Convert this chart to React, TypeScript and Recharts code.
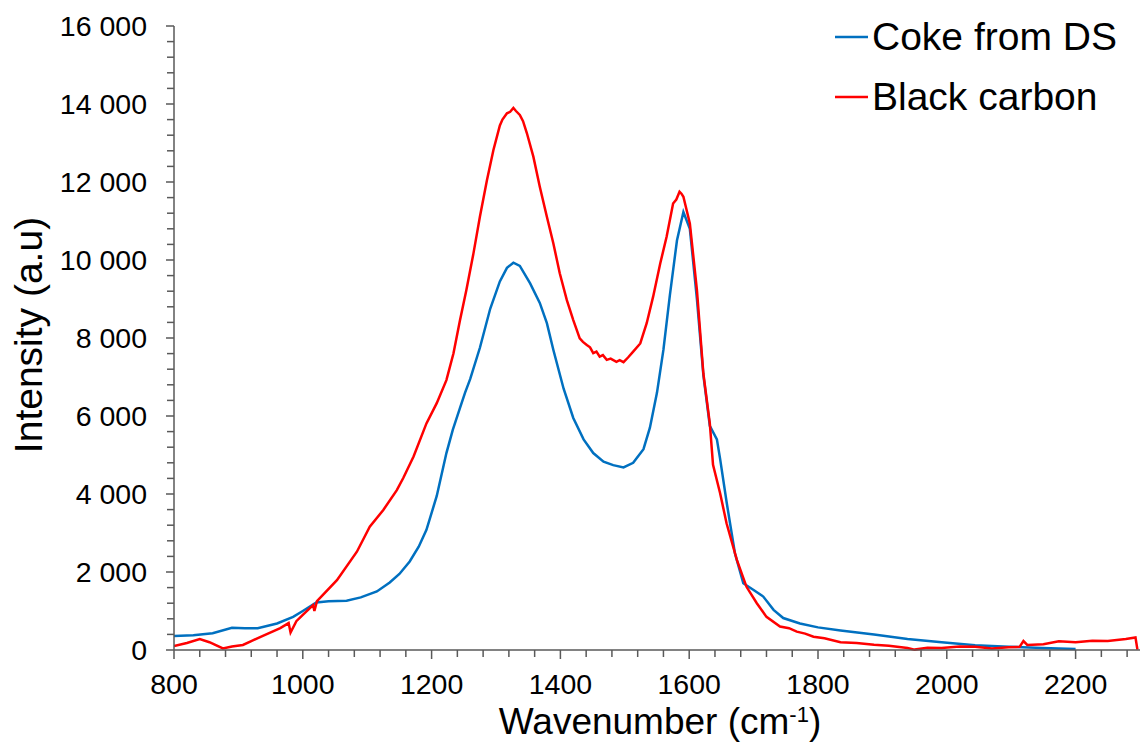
import { LineChart, Line, XAxis, YAxis, Legend } from "recharts";

const FONT = "'Liberation Sans', Arial, sans-serif";
const BLUE = "#0070C0";
const RED = "#FF0000";
const AXIS = "#595959";

// Coke from DS
const cokeWavenumber = [
  800, 830, 860, 890, 910, 930, 960, 985, 1000, 1021, 1040, 1068, 1090, 1115, 1135, 1150, 1166, 1180,
  1192, 1208, 1223, 1233, 1244, 1252, 1260, 1275, 1291, 1306, 1317, 1327, 1337, 1353, 1368, 1379, 1389,
  1405, 1420, 1436, 1451, 1467, 1482, 1498, 1513, 1529, 1539, 1550, 1560, 1570, 1581, 1591, 1601, 1612,
  1622, 1632, 1643, 1648, 1658, 1671, 1684, 1700, 1715, 1731, 1746, 1772, 1800, 1835, 1887, 1939, 1992,
  2044, 2096, 2148, 2200,
];
const cokeIntensity = [
  360, 380, 430, 570, 560, 560, 680, 850, 1000, 1220, 1250, 1265, 1350, 1500, 1730, 1950, 2270, 2650,
  3080, 3950, 5050, 5650, 6200, 6600, 6950, 7750, 8750, 9450, 9800, 9930, 9850, 9400, 8900, 8380, 7700,
  6700, 5950, 5400, 5050, 4830, 4740, 4680, 4800, 5150, 5700, 6600, 7700, 9100, 10500, 11230, 10800, 9000,
  7050, 5750, 5400, 4900, 3800, 2480, 1710, 1540, 1370, 1030, 820, 680, 580, 500, 395, 280, 200,
  120, 85, 50, 25,
];

// Black carbon
const carbonWavenumber = [
  800, 820, 840, 855, 876, 890, 907, 920, 938, 965, 978, 981, 990, 1000, 1016, 1018, 1022, 1053, 1084,
  1104, 1125, 1146, 1156, 1172, 1192, 1208, 1223, 1234, 1244, 1254, 1265, 1275, 1286, 1296, 1306, 1310,
  1317, 1322, 1327, 1331, 1337, 1342, 1348, 1358, 1368, 1379, 1389, 1399, 1410, 1420, 1430, 1435, 1441,
  1446, 1451, 1456, 1461, 1466, 1472, 1478, 1487, 1492, 1498, 1505, 1513, 1524, 1534, 1544, 1555, 1565,
  1575, 1580, 1585, 1588, 1591, 1601, 1612, 1622, 1632, 1637, 1648, 1658, 1674, 1689, 1705, 1720, 1741,
  1755, 1767, 1780, 1793, 1810, 1835, 1860, 1887, 1910, 1939, 1950, 1970, 1992, 2020, 2044, 2070, 2096,
  2113, 2119, 2125, 2150, 2174, 2200, 2226, 2250, 2278, 2293, 2296,
];
const carbonIntensity = [
  100, 180, 280, 200, 40, 90, 130, 230, 360, 560, 690, 450, 740, 900, 1150, 1000, 1250, 1790, 2520,
  3160, 3590, 4100, 4410, 4960, 5810, 6330, 6920, 7610, 8450, 9230, 10170, 11110, 12050, 12820, 13450, 13600,
  13760, 13800, 13900, 13820, 13720, 13560, 13250, 12650, 11880, 11110, 10430, 9660, 8970, 8460, 7990, 7900, 7820,
  7760, 7610, 7650, 7520, 7560, 7440, 7470, 7390, 7430, 7380, 7500, 7650, 7860, 8380, 9060, 9910, 10600,
  11450, 11550, 11750, 11700, 11620, 10940, 9230, 7090, 5810, 4750, 4020, 3250, 2310, 1620, 1200, 850, 600,
  560, 470, 420, 340, 300, 200, 180, 135, 110, 50, 10, 60, 50, 90, 85, 40, 70,
  80, 230, 130, 150, 225, 200, 240, 230, 280, 320, 10,
];

const xTicks = [
  800, 840, 880, 920, 960, 1000, 1040, 1080, 1120, 1160, 1200, 1240, 1280, 1320, 1360, 1400, 1440, 1480,
  1520, 1560, 1600, 1640, 1680, 1720, 1760, 1800, 1840, 1880, 1920, 1960, 2000, 2040, 2080, 2120, 2160,
  2200, 2240, 2280,
];
const xLabels = [800, 1000, 1200, 1400, 1600, 1800, 2000, 2200];
const yTicks = [
  0, 400, 800, 1200, 1600, 2000, 2400, 2800, 3200, 3600, 4000, 4400, 4800, 5200, 5600, 6000, 6400, 6800,
  7200, 7600, 8000, 8400, 8800, 9200, 9600, 10000, 10400, 10800, 11200, 11600, 12000, 12400, 12800, 13200,
  13600, 14000, 14400, 14800, 15200, 15600, 16000,
];
const yLabels = [0, 2000, 4000, 6000, 8000, 10000, 12000, 14000, 16000];

const series = [
  { name: "Coke from DS", color: BLUE, data: cokeWavenumber.map((x, i) => ({ x, y: cokeIntensity[i] })) },
  { name: "Black carbon", color: RED, data: carbonWavenumber.map((x, i) => ({ x, y: carbonIntensity[i] })) },
];

const fmt = (v: number) => (v === 0 ? "0" : `${v / 1000} 000`);

function XTick({ x, y, payload }: any) {
  const major = xLabels.includes(payload.value);
  return (
    <g>
      <line x1={x} x2={x} y1={y} y2={y + (major ? 9 : 7)} stroke={AXIS} strokeWidth={1.5} />
      {major && (
        <text x={x} y={y + 44} textAnchor="middle" fontSize={28.5} fontFamily={FONT} fill="#000">
          {payload.value}
        </text>
      )}
    </g>
  );
}

function YTick({ x, y, payload }: any) {
  const major = yLabels.includes(payload.value);
  return (
    <g>
      <line x1={x - (major ? 8 : 7)} x2={x} y1={y} y2={y} stroke={AXIS} strokeWidth={1.5} />
      {major && (
        <text x={x - 27} y={y} dy="0.36em" textAnchor="end" fontSize={28.5} fontFamily={FONT} fill="#000">
          {fmt(payload.value)}
        </text>
      )}
    </g>
  );
}

function LegendBox() {
  return (
    <div style={{ fontFamily: FONT, fontSize: 39, color: "#000" }}>
      {series.map((s) => (
        <div key={s.name} style={{ display: "flex", alignItems: "center", height: 60, whiteSpace: "nowrap" }}>
          <svg width={37} height={4} style={{ display: "block" }}>
            <line x1={0} x2={33} y1={2} y2={2} stroke={s.color} strokeWidth={2.5} />
          </svg>
          <span>{s.name}</span>
        </div>
      ))}
    </div>
  );
}

export default function App() {
  return (
    <div style={{ position: "absolute", left: 0, top: 0, background: "#fff" }}>
      <LineChart width={1141} height={753} margin={{ top: 26, right: 1, left: 74, bottom: 43 }}>
        <XAxis
          type="number"
          dataKey="x"
          domain={[800, 2300]}
          ticks={xTicks}
          interval={0}
          allowDataOverflow
          height={60}
          tickSize={0}
          tickMargin={0}
          tickLine={false}
          axisLine={{ stroke: AXIS, strokeWidth: 1.5 }}
          tick={<XTick />}
          label={{
            content: () => (
              <text x={660} y={734} textAnchor="middle" fontSize={37} fontFamily={FONT} fill="#000">
                Wavenumber (cm
                <tspan dy={-12} fontSize={22}>-1</tspan>
                <tspan dy={12}>)</tspan>
              </text>
            ),
          }}
        />
        <YAxis
          type="number"
          dataKey="y"
          domain={[0, 16000]}
          ticks={yTicks}
          interval={0}
          width={100}
          tickSize={0}
          tickMargin={0}
          tickLine={false}
          axisLine={{ stroke: AXIS, strokeWidth: 1.5 }}
          tick={<YTick />}
          label={{
            content: () => (
              <text
                x={42}
                y={335}
                transform="rotate(-90 42 335)"
                textAnchor="middle"
                fontSize={39}
                fontFamily={FONT}
                fill="#000"
              >
                Intensity (a.u)
              </text>
            ),
          }}
        />
        <Legend
          layout="horizontal"
          verticalAlign="middle"
          align="center"
          content={<LegendBox />}
          wrapperStyle={{ top: 7, left: 835, width: 300 }}
        />
        {series.map((s) => (
          <Line
            key={s.name}
            name={s.name}
            data={s.data}
            dataKey="y"
            type="linear"
            stroke={s.color}
            strokeWidth={2.5}
            dot={false}
            activeDot={false}
            isAnimationActive={false}
          />
        ))}
      </LineChart>
    </div>
  );
}
